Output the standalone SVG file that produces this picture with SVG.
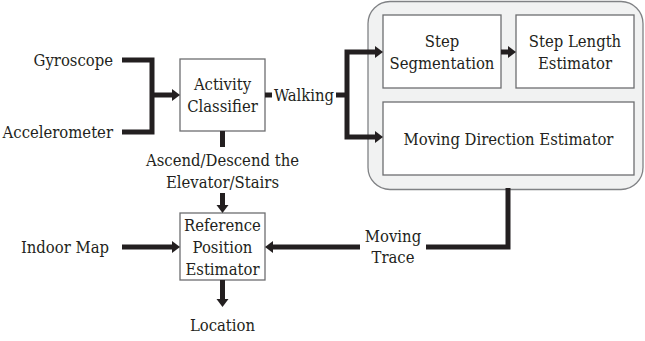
<svg xmlns="http://www.w3.org/2000/svg" width="645" height="341" viewBox="0 0 645 341">
<style>
.t text{font-family:"DejaVu Serif Condensed",serif;font-size:16.5px;fill:#231f20;text-anchor:middle;dominant-baseline:central}
.box{fill:#fff;stroke:#6d6e70;stroke-width:1.3}
.c{fill:none;stroke:#231f20;stroke-width:5;stroke-linejoin:miter}
.ah{fill:#231f20}
</style>
<rect width="645" height="341" fill="#fff"/>
<g id="group-panel"><rect x="368" y="1.5" width="275" height="188" rx="22" ry="22" fill="#f1f2f2" stroke="#808285" stroke-width="1.3"/></g>
<g class="t">
<g id="activity-classifier"><rect class="box" x="180" y="59" width="85" height="72"/><text x="222.5" y="84">Activity</text><text x="222.5" y="106">Classifier</text></g>
<g id="step-segmentation"><rect class="box" x="383" y="15" width="118" height="73"/><text x="442" y="41">Step</text><text x="442" y="63">Segmentation</text></g>
<g id="step-length"><rect class="box" x="516" y="15" width="118" height="73"/><text x="575" y="41">Step Length</text><text x="575" y="63">Estimator</text></g>
<g id="moving-direction"><rect class="box" x="383" y="102" width="251" height="73"/><text x="508.5" y="139">Moving Direction Estimator</text></g>
<g id="reference-position"><rect class="box" x="180" y="213" width="85" height="67"/><text x="222.5" y="225">Reference</text><text x="222.5" y="247">Position</text><text x="222.5" y="269">Estimator</text></g>
<g id="labels">
<text x="113" y="60" style="text-anchor:end">Gyroscope</text>
<text x="113" y="132" style="text-anchor:end">Accelerometer</text>
<text x="65" y="247">Indoor Map</text>
<text x="222.5" y="160">Ascend/Descend the</text>
<text x="222.5" y="182">Elevator/Stairs</text>
<text x="222.5" y="325">Location</text>
<text x="304" y="95">Walking</text>
<text x="393" y="236">Moving</text>
<text x="393" y="257">Trace</text>
</g>
</g>
<g id="connectors">
<path class="c" d="M122 60 H152 V132 H122"/>
<path class="c" d="M152 95 H172"/>
<polygon class="ah" points="172,89 180,95 172,101"/>
<path class="c" d="M265 95 H272"/>
<path class="c" d="M336 95 H347"/>
<path class="c" d="M375 52 H347 V137 H375"/>
<polygon class="ah" points="375,46 383,52 375,58"/>
<polygon class="ah" points="375,131 383,137 375,143"/>
<path class="c" d="M501 52 H508"/>
<polygon class="ah" points="508,46 516,52 508,58"/>
<path class="c" d="M222.5 131 V147"/>
<path class="c" d="M222.5 193 V205"/>
<polygon class="ah" points="216.5,205 222.5,213 228.5,205"/>
<path class="c" d="M122 247 H172"/>
<polygon class="ah" points="172,241 180,247 172,253"/>
<path class="c" d="M508 188 V247 H426"/>
<path class="c" d="M360 247 H273"/>
<polygon class="ah" points="273,241 265,247 273,253"/>
<path class="c" d="M222.5 280 V299"/>
<polygon class="ah" points="216.5,299 222.5,307 228.5,299"/>
</g>
</svg>
